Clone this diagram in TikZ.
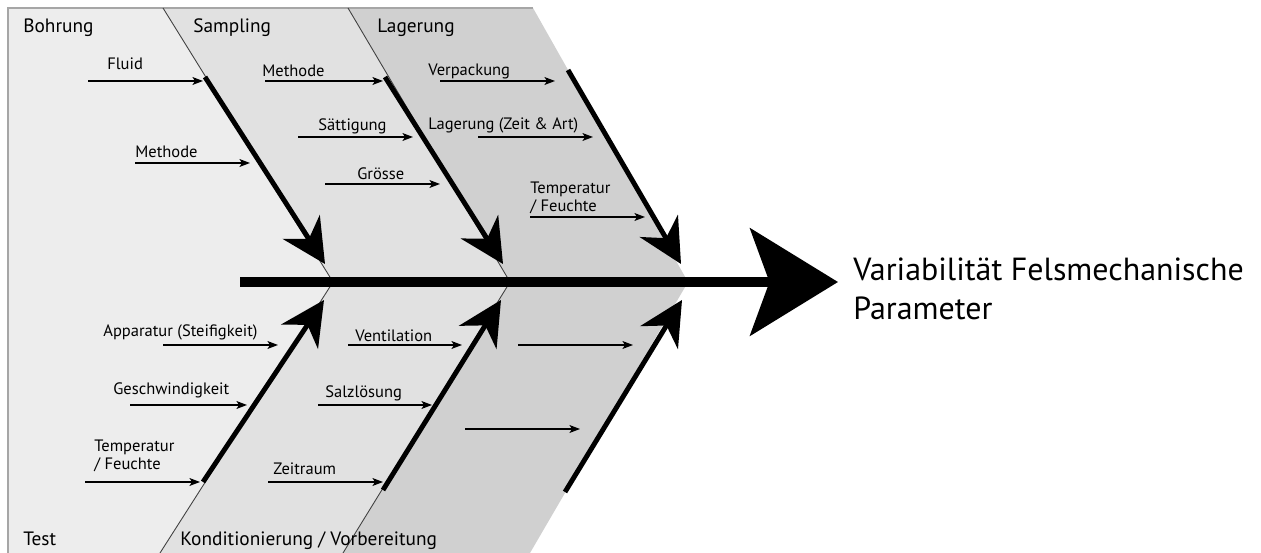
\documentclass[tikz,border=0pt]{standalone}
\usepackage{fontspec}
\setmainfont{PT Sans}
\usetikzlibrary{arrows.meta}

\definecolor{bohrungfill}{HTML}{EDEDED}
\definecolor{samplingfill}{HTML}{E1E1E1}
\definecolor{lagerfill}{HTML}{D0D0D0}

\begin{document}
\begin{tikzpicture}[x=0.02cm,y=-0.02cm,
    cause/.style={font=\fontsize{9.4}{10.8}\selectfont, inner sep=0pt, anchor=base west, align=left},
    category/.style={font=\fontsize{11}{13}\selectfont, inner sep=0pt, anchor=base west},
    effect/.style={font=\fontsize{18.2}{22.7}\selectfont, inner sep=0pt, anchor=base west, align=left},
    causearrow/.style={line width=0.85pt, -{Stealth[length=6pt,width=4.5pt,inset=1.5pt]}},
    bone/.style={line width=2.8pt, -{Stealth[length=25pt,width=25pt,inset=8pt]}},
    spine/.style={line width=5.5pt, -{Stealth[length=50pt,width=61pt,inset=11pt]}},
    divider/.style={line width=0.5pt, draw=black!75},
    frame/.style={line width=0.7pt, draw=black!35}]
      \useasboundingbox (0,0) rectangle (1261,553);
      % chevron outlines
      \coordinate (corner) at (8,8);
      \coordinate (bl) at (8,553);
      \coordinate (T1) at (163,8);
      \coordinate (V1) at (333,282);
      \coordinate (B1) at (160,553);
      \coordinate (T2) at (348,8);
      \coordinate (V2) at (510,282);
      \coordinate (B2) at (343,553);
      \coordinate (T3) at (533,8);
      \coordinate (V3) at (688,282);
      \coordinate (B3) at (530,553);
      \fill[lagerfill] (corner) -- (T3) -- (V3) -- (B3) -- (bl) -- cycle;
      \fill[samplingfill] (corner) -- (T2) -- (V2) -- (B2) -- (bl) -- cycle;
      \fill[bohrungfill] (corner) -- (T1) -- (V1) -- (B1) -- (bl) -- cycle;
      \draw[frame] (bl) -- (corner) -- (T3);
      \draw[divider] (T1) -- (V1) -- (B1);
      \draw[divider] (T2) -- (V2) -- (B2);

      % spine and effect
      \coordinate (spineS) at (240,282);
      \coordinate (spineE) at (838,282);
      \draw[spine] (spineS) -- (spineE);
      \node[effect] (effect) at (853,320) {Variabilität Felsmechanische\\Parameter};

      % bones
      \coordinate (bone1a) at (205,77);
      \coordinate (bone1b) at (325,264);
      \coordinate (bone2a) at (385,77);
      \coordinate (bone2b) at (503,264);
      \coordinate (bone3a) at (568,70);
      \coordinate (bone3b) at (681,264);
      \coordinate (bone4a) at (203,482);
      \coordinate (bone4b) at (324,300);
      \coordinate (bone5a) at (383,490);
      \coordinate (bone5b) at (501,300);
      \coordinate (bone6a) at (565,492);
      \coordinate (bone6b) at (682,300);
      \draw[bone] (bone1a) -- (bone1b);
      \draw[bone] (bone2a) -- (bone2b);
      \draw[bone] (bone3a) -- (bone3b);
      \draw[bone] (bone4a) -- (bone4b);
      \draw[bone] (bone5a) -- (bone5b);
      \draw[bone] (bone6a) -- (bone6b);

      % categories
      \node[category] (bohrung) at (23,33) {Bohrung};
      \node[category] (sampling) at (193,33) {Sampling};
      \node[category] (lagerung) at (377,33) {Lagerung};
      \node[category] (test) at (23,545) {Test};
      \node[category] (kond) at (180,545) {Konditionierung / Vorbereitung};

      % causes, top
      \coordinate (fluidS) at (88,81);
      \coordinate (fluidE) at (203,81);
      \draw[causearrow] (fluidS) -- (fluidE);
      \node[cause] (fluid) at (107,70) {Fluid};
      \coordinate (bmethS) at (135,163);
      \coordinate (bmethE) at (250,163);
      \draw[causearrow] (bmethS) -- (bmethE);
      \node[cause] (bmeth) at (135,158) {Methode};
      \coordinate (smethS) at (265,81);
      \coordinate (smethE) at (383,81);
      \draw[causearrow] (smethS) -- (smethE);
      \node[cause] (smeth) at (262,77) {Methode};
      \coordinate (saettS) at (298,137);
      \coordinate (saettE) at (413,137);
      \draw[causearrow] (saettS) -- (saettE);
      \node[cause] (saett) at (318,131) {Sättigung};
      \coordinate (groesseS) at (325,184);
      \coordinate (groesseE) at (440,184);
      \draw[causearrow] (groesseS) -- (groesseE);
      \node[cause] (groesse) at (357,180) {Grösse};
      \coordinate (verpS) at (440,81);
      \coordinate (verpE) at (555,81);
      \draw[causearrow] (verpS) -- (verpE);
      \node[cause] (verp) at (428,76) {Verpackung};
      \coordinate (lzeitS) at (478,137);
      \coordinate (lzeitE) at (593,137);
      \draw[causearrow] (lzeitS) -- (lzeitE);
      \node[cause] (lzeit) at (428,130) {Lagerung (Zeit \& Art)};
      \coordinate (ltempS) at (530,217);
      \coordinate (ltempE) at (645,217);
      \draw[causearrow] (ltempS) -- (ltempE);
      \node[cause] (ltemp) at (530,212) {Temperatur\\/ Feuchte};

      % causes, bottom
      \coordinate (appS) at (163,345);
      \coordinate (appE) at (278,345);
      \draw[causearrow] (appS) -- (appE);
      \node[cause] (app) at (103,337) {Apparatur (Steifigkeit)};
      \coordinate (geschwS) at (130,405);
      \coordinate (geschwE) at (247,405);
      \draw[causearrow] (geschwS) -- (geschwE);
      \node[cause] (geschw) at (113,395) {Geschwindigkeit};
      \coordinate (ttempS) at (85,482);
      \coordinate (ttempE) at (200,482);
      \draw[causearrow] (ttempS) -- (ttempE);
      \node[cause] (ttemp) at (94,470) {Temperatur\\/ Feuchte};
      \coordinate (ventS) at (348,345);
      \coordinate (ventE) at (462,345);
      \draw[causearrow] (ventS) -- (ventE);
      \node[cause] (vent) at (355,342) {Ventilation};
      \coordinate (salzS) at (318,405);
      \coordinate (salzE) at (432,405);
      \draw[causearrow] (salzS) -- (salzE);
      \node[cause] (salz) at (325,398) {Salzlösung};
      \coordinate (zeitS) at (268,482);
      \coordinate (zeitE) at (383,482);
      \draw[causearrow] (zeitS) -- (zeitE);
      \node[cause] (zeit) at (273,475) {Zeitraum};
      \coordinate (emptyaS) at (518,345);
      \coordinate (emptyaE) at (633,345);
      \draw[causearrow] (emptyaS) -- (emptyaE);
      \coordinate (emptybS) at (465,429);
      \coordinate (emptybE) at (580,429);
      \draw[causearrow] (emptybS) -- (emptybE);
\end{tikzpicture}
\end{document}
